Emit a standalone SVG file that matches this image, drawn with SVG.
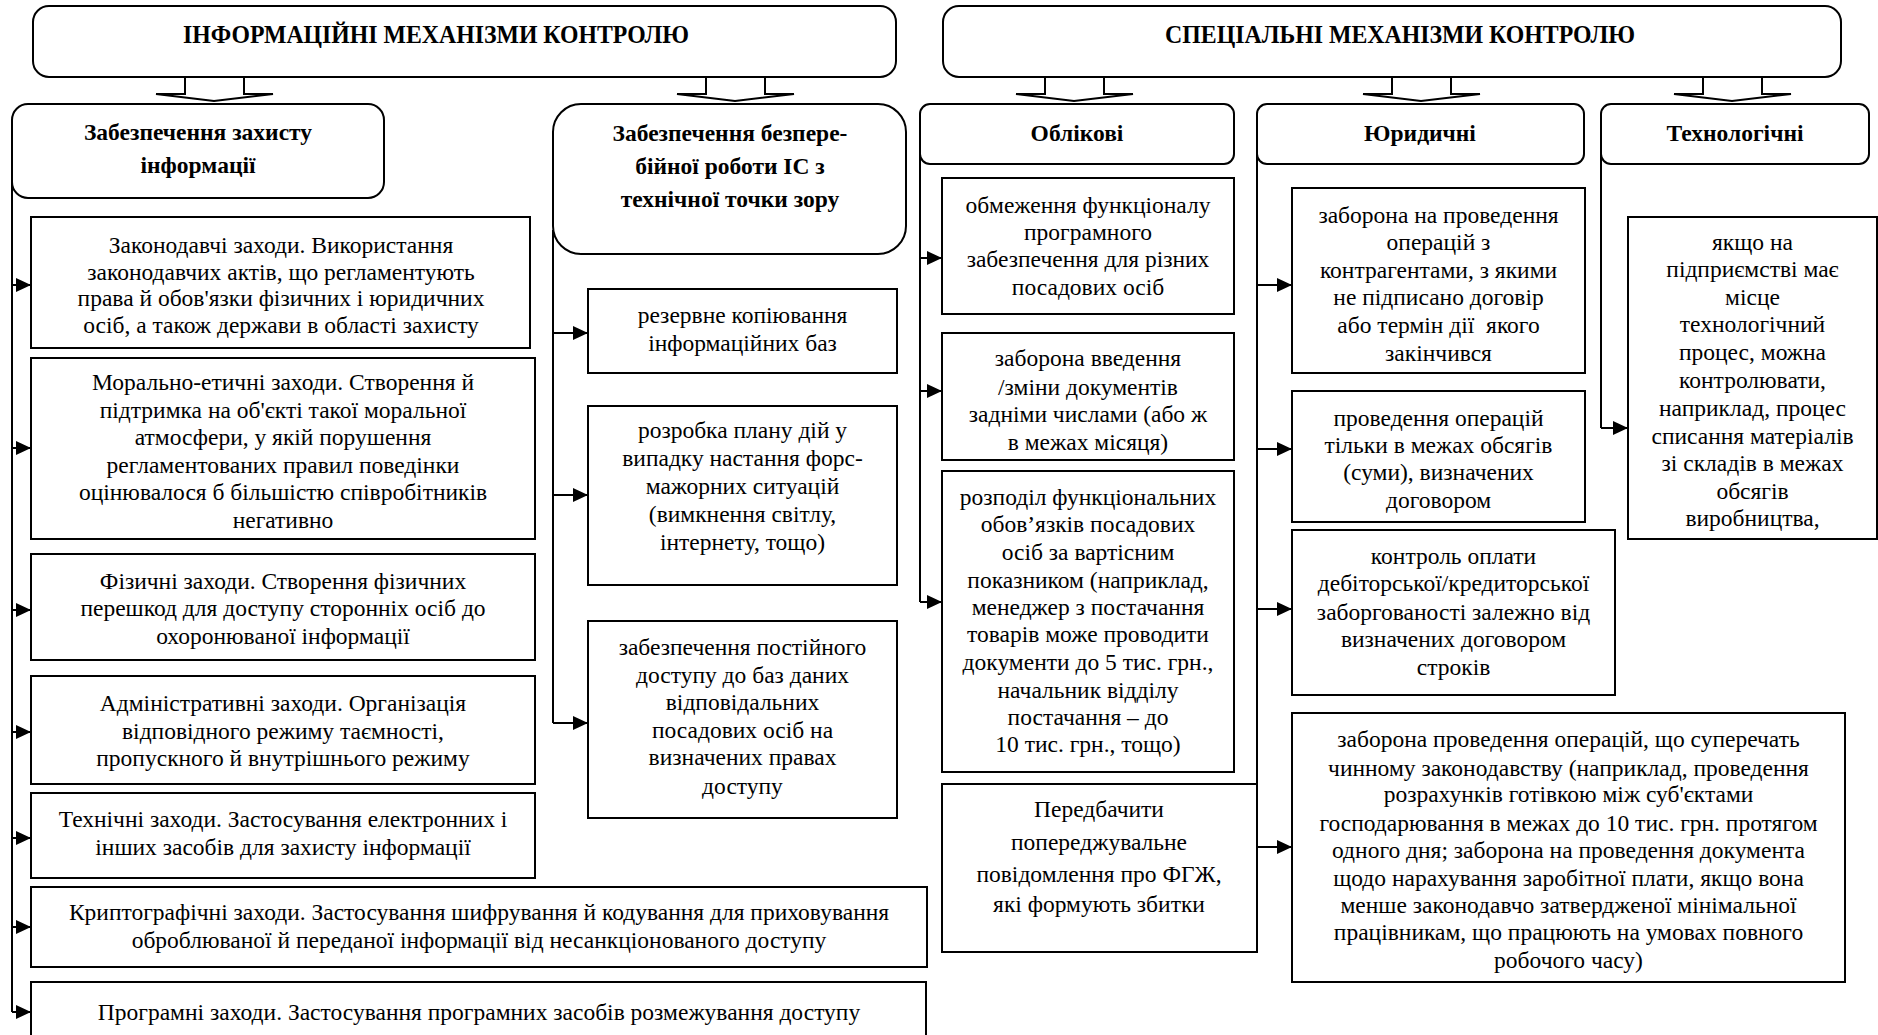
<svg xmlns="http://www.w3.org/2000/svg" width="1878" height="1035" viewBox="0 0 1878 1035">
<style>
.b{fill:#fff;stroke:#000;stroke-width:2}
.t{font-family:"Liberation Serif","Times New Roman",serif;font-size:23.5px;fill:#000;text-anchor:middle}
.h{font-family:"Liberation Serif","Times New Roman",serif;font-size:23.5px;font-weight:bold;fill:#000;text-anchor:middle}
.tt{font-family:"Liberation Serif","Times New Roman",serif;font-size:26px;font-weight:bold;fill:#000;text-anchor:middle}
.c{fill:none;stroke:#000;stroke-width:2}
.ba{fill:#fff;stroke:#000;stroke-width:2;stroke-linejoin:miter}
</style>
<defs>
<marker id="ah" viewBox="0 0 15 14" refX="15" refY="7" markerWidth="15" markerHeight="14" markerUnits="userSpaceOnUse" orient="auto">
<path d="M0,0 L15,7 L0,14 z" fill="#000"/>
</marker>
</defs>
<rect width="1878" height="1035" fill="#fff"/>

<g id="connectors">
<path class="ba" d="M185,77 V94 H156 L214,101 L273,94 H244 V77"/>
<path class="ba" d="M706,77 V94 H677 L735,101 L794,94 H765 V77"/>
<path class="ba" d="M1045,77 V94 H1016 L1074,101 L1133,94 H1104 V77"/>
<path class="ba" d="M1392,77 V94 H1363 L1421,101 L1480,94 H1451 V77"/>
<path class="ba" d="M1703,77 V94 H1674 L1732,101 L1791,94 H1762 V77"/>
<path class="c" d="M12,150 V1012"/>
<path class="c" marker-end="url(#ah)" d="M12,285 H31"/>
<path class="c" marker-end="url(#ah)" d="M12,448 H31"/>
<path class="c" marker-end="url(#ah)" d="M12,610 H31"/>
<path class="c" marker-end="url(#ah)" d="M12,732 H31"/>
<path class="c" marker-end="url(#ah)" d="M12,838 H31"/>
<path class="c" marker-end="url(#ah)" d="M12,927 H31"/>
<path class="c" marker-end="url(#ah)" d="M12,1012 H31"/>
<path class="c" d="M553,230 V723"/>
<path class="c" marker-end="url(#ah)" d="M553,333 H588"/>
<path class="c" marker-end="url(#ah)" d="M553,495 H588"/>
<path class="c" marker-end="url(#ah)" d="M553,723 H588"/>
<path class="c" d="M920,150 V602"/>
<path class="c" marker-end="url(#ah)" d="M920,258 H942"/>
<path class="c" marker-end="url(#ah)" d="M920,391 H942"/>
<path class="c" marker-end="url(#ah)" d="M920,602 H942"/>
<path class="c" d="M1257,150 V847"/>
<path class="c" marker-end="url(#ah)" d="M1257,285 H1292"/>
<path class="c" marker-end="url(#ah)" d="M1257,449 H1292"/>
<path class="c" marker-end="url(#ah)" d="M1257,609 H1292"/>
<path class="c" marker-end="url(#ah)" d="M1257,847 H1292"/>
<path class="c" d="M1601,150 V428"/>
<path class="c" marker-end="url(#ah)" d="M1601,428 H1628"/>
</g>

<g id="top-info">
<rect class="b" x="33" y="6" width="863" height="71" rx="16"/>
<text class="tt" x="436" y="43" textLength="506" lengthAdjust="spacingAndGlyphs">ІНФОРМАЦІЙНІ МЕХАНІЗМИ КОНТРОЛЮ</text>
</g>
<g id="top-special">
<rect class="b" x="943" y="6" width="898" height="71" rx="16"/>
<text class="tt" x="1400" y="43" textLength="470" lengthAdjust="spacingAndGlyphs">СПЕЦІАЛЬНІ МЕХАНІЗМИ КОНТРОЛЮ</text>
</g>

<g id="h-protect">
<rect class="b" x="12" y="104" width="372" height="94" rx="16"/>
<text class="h" x="198" y="140">Забезпечення захисту</text>
<text class="h" x="198" y="173">інформації</text>
</g>
<g id="h-continuity">
<rect class="b" x="553" y="104" width="353" height="150" rx="28"/>
<text class="h" x="730" y="141">Забезпечення безпере-</text>
<text class="h" x="730" y="174">бійної роботи ІС з</text>
<text class="h" x="730" y="207">технічної точки зору</text>
</g>
<g id="h-oblik">
<rect class="b" x="920" y="104" width="314" height="60" rx="10"/>
<text class="h" x="1077" y="141">Облікові</text>
</g>
<g id="h-jur">
<rect class="b" x="1257" y="104" width="327" height="60" rx="10"/>
<text class="h" x="1420" y="141">Юридичні</text>
</g>
<g id="h-tech">
<rect class="b" x="1601" y="104" width="268" height="60" rx="10"/>
<text class="h" x="1735" y="141">Технологічні</text>
</g>

<g id="n-legis">
<rect class="b" x="31" y="217" width="499" height="131"/>
<text class="t" x="281" y="253">Законодавчі заходи. Використання</text>
<text class="t" x="281" y="280">законодавчих актів, що регламентують</text>
<text class="t" x="281" y="306">права й обов'язки фізичних і юридичних</text>
<text class="t" x="281" y="333">осіб, а також держави в області захисту</text>
</g>
<g id="n-moral">
<rect class="b" x="31" y="358" width="504" height="181"/>
<text class="t" x="283" y="390">Морально-етичні заходи. Створення й</text>
<text class="t" x="283" y="417.5">підтримка на об'єкті такої моральної</text>
<text class="t" x="283" y="445">атмосфери, у якій порушення</text>
<text class="t" x="283" y="472.5">регламентованих правил поведінки</text>
<text class="t" x="283" y="500">оцінювалося б більшістю співробітників</text>
<text class="t" x="283" y="527.5">негативно</text>
</g>
<g id="n-phys">
<rect class="b" x="31" y="554" width="504" height="106"/>
<text class="t" x="283" y="589">Фізичні заходи. Створення фізичних</text>
<text class="t" x="283" y="616">перешкод для доступу сторонніх осіб до</text>
<text class="t" x="283" y="644">охоронюваної інформації</text>
</g>
<g id="n-admin">
<rect class="b" x="31" y="676" width="504" height="108"/>
<text class="t" x="283" y="711">Адміністративні заходи. Організація</text>
<text class="t" x="283" y="739">відповідного режиму таємності,</text>
<text class="t" x="283" y="766">пропускного й внутрішнього режиму</text>
</g>
<g id="n-techm">
<rect class="b" x="31" y="793" width="504" height="85"/>
<text class="t" x="283" y="827">Технічні заходи. Застосування електронних і</text>
<text class="t" x="283" y="855">інших засобів для захисту інформації</text>
</g>
<g id="n-crypto">
<rect class="b" x="31" y="887" width="896" height="80"/>
<text class="t" x="479" y="920">Криптографічні заходи. Застосування шифрування й кодування для приховування</text>
<text class="t" x="479" y="948">оброблюваної й переданої інформації від несанкціонованого доступу</text>
</g>
<g id="n-prog">
<rect class="b" x="31" y="982" width="895" height="70"/>
<text class="t" x="479" y="1020">Програмні заходи. Застосування програмних засобів розмежування доступу</text>
</g>

<g id="n-backup">
<rect class="b" x="588" y="289" width="309" height="84"/>
<text class="t" x="742.5" y="323">резервне копіювання</text>
<text class="t" x="742.5" y="351">інформаційних баз</text>
</g>
<g id="n-plan">
<rect class="b" x="588" y="406" width="309" height="179"/>
<text class="t" x="742.5" y="438">розробка плану дій у</text>
<text class="t" x="742.5" y="466">випадку настання форс-</text>
<text class="t" x="742.5" y="494">мажорних ситуацій</text>
<text class="t" x="742.5" y="522">(вимкнення світлу,</text>
<text class="t" x="742.5" y="550">інтернету, тощо)</text>
</g>
<g id="n-access">
<rect class="b" x="588" y="621" width="309" height="197"/>
<text class="t" x="742.5" y="655">забезпечення постійного</text>
<text class="t" x="742.5" y="683">доступу до баз даних</text>
<text class="t" x="742.5" y="710">відповідальних</text>
<text class="t" x="742.5" y="738">посадових осіб на</text>
<text class="t" x="742.5" y="765">визначених правах</text>
<text class="t" x="742.5" y="794">доступу</text>
</g>

<g id="n-limit">
<rect class="b" x="942" y="178" width="292" height="136"/>
<text class="t" x="1088" y="213">обмеження функціоналу</text>
<text class="t" x="1088" y="240">програмного</text>
<text class="t" x="1088" y="267">забезпечення для різних</text>
<text class="t" x="1088" y="295">посадових осіб</text>
</g>
<g id="n-backdate">
<rect class="b" x="942" y="333" width="292" height="127"/>
<text class="t" x="1088" y="366">заборона введення</text>
<text class="t" x="1088" y="395">/зміни документів</text>
<text class="t" x="1088" y="422">задніми числами (або ж</text>
<text class="t" x="1088" y="450">в межах місяця)</text>
</g>
<g id="n-split">
<rect class="b" x="942" y="471" width="292" height="301"/>
<text class="t" x="1088" y="505">розподіл функціональних</text>
<text class="t" x="1088" y="532">обов’язків посадових</text>
<text class="t" x="1088" y="560">осіб за вартісним</text>
<text class="t" x="1088" y="588">показником (наприклад,</text>
<text class="t" x="1088" y="615">менеджер з постачання</text>
<text class="t" x="1088" y="642">товарів може проводити</text>
<text class="t" x="1088" y="670">документи до 5 тис. грн.,</text>
<text class="t" x="1088" y="698">начальник відділу</text>
<text class="t" x="1088" y="725">постачання – до</text>
<text class="t" x="1088" y="752">10 тис. грн., тощо)</text>
</g>
<g id="n-warn">
<rect class="b" x="942" y="784" width="315" height="168"/>
<text class="t" x="1099" y="817">Передбачити</text>
<text class="t" x="1099" y="850">попереджувальне</text>
<text class="t" x="1099" y="882">повідомлення про ФГЖ,</text>
<text class="t" x="1099" y="912">які формують збитки</text>
</g>

<g id="n-contract">
<rect class="b" x="1292" y="188" width="293" height="185"/>
<text class="t" x="1438.5" y="223">заборона на проведення</text>
<text class="t" x="1438.5" y="250">операцій з</text>
<text class="t" x="1438.5" y="278">контрагентами, з якими</text>
<text class="t" x="1438.5" y="305">не підписано договір</text>
<text class="t" x="1438.5" y="333">або термін дії&#160; якого</text>
<text class="t" x="1438.5" y="361">закінчився</text>
</g>
<g id="n-volume">
<rect class="b" x="1292" y="391" width="293" height="131"/>
<text class="t" x="1438.5" y="426">проведення операцій</text>
<text class="t" x="1438.5" y="453">тільки в межах обсягів</text>
<text class="t" x="1438.5" y="480">(суми), визначених</text>
<text class="t" x="1438.5" y="508">договором</text>
</g>
<g id="n-debt">
<rect class="b" x="1292" y="530" width="323" height="165"/>
<text class="t" x="1453.5" y="564">контроль оплати</text>
<text class="t" x="1453.5" y="591">дебіторської/кредиторської</text>
<text class="t" x="1453.5" y="620">заборгованості залежно від</text>
<text class="t" x="1453.5" y="647">визначених договором</text>
<text class="t" x="1453.5" y="675">строків</text>
</g>
<g id="n-law">
<rect class="b" x="1292" y="713" width="553" height="269"/>
<text class="t" x="1568.5" y="747">заборона проведення операцій, що суперечать</text>
<text class="t" x="1568.5" y="776">чинному законодавству (наприклад, проведення</text>
<text class="t" x="1568.5" y="802">розрахунків готівкою між суб'єктами</text>
<text class="t" x="1568.5" y="831">господарювання в межах до 10 тис. грн. протягом</text>
<text class="t" x="1568.5" y="858">одного дня; заборона на проведення документа</text>
<text class="t" x="1568.5" y="886">щодо нарахування заробітної плати, якщо вона</text>
<text class="t" x="1568.5" y="913">менше законодавчо затвердженої мінімальної</text>
<text class="t" x="1568.5" y="940">працівникам, що працюють на умовах повного</text>
<text class="t" x="1568.5" y="968">робочого часу)</text>
</g>

<g id="n-process">
<rect class="b" x="1628" y="217" width="249" height="322"/>
<text class="t" x="1752.5" y="250">якщо на</text>
<text class="t" x="1752.5" y="277">підприємстві має</text>
<text class="t" x="1752.5" y="305">місце</text>
<text class="t" x="1752.5" y="332">технологічний</text>
<text class="t" x="1752.5" y="360">процес, можна</text>
<text class="t" x="1752.5" y="388">контролювати,</text>
<text class="t" x="1752.5" y="416">наприклад, процес</text>
<text class="t" x="1752.5" y="444">списання матеріалів</text>
<text class="t" x="1752.5" y="471">зі складів в межах</text>
<text class="t" x="1752.5" y="499">обсягів</text>
<text class="t" x="1752.5" y="526">виробництва,</text>
</g>
</svg>
